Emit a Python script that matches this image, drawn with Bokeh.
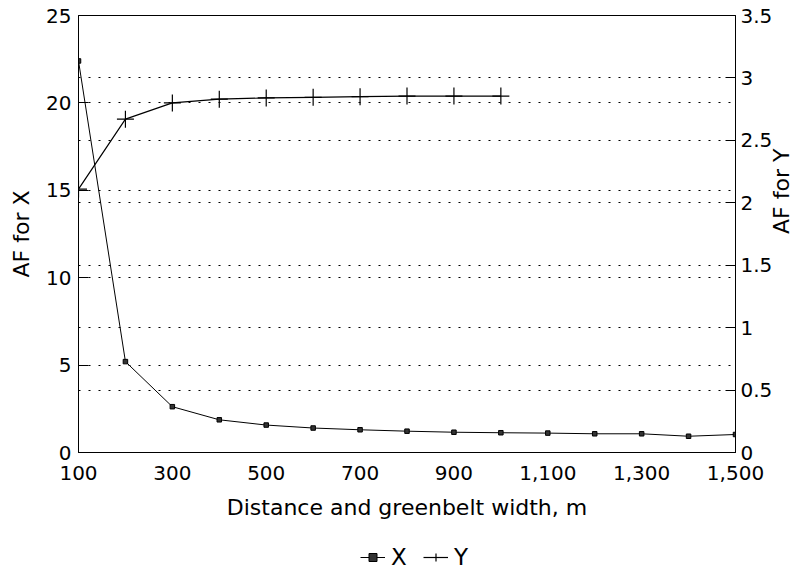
import math
from bokeh.plotting import figure
from bokeh.layouts import column
from bokeh.models import (Range1d, LinearAxis, FixedTicker, Grid, Legend, LegendItem,
                          NumeralTickFormatter)
from bokeh.embed import file_html
from bokeh.resources import INLINE

# ---- data ----
distance = [100, 200, 300, 400, 500, 600, 700, 800, 900, 1000, 1100, 1200, 1300, 1400, 1500]
af_x = [22.4, 5.2, 2.62, 1.87, 1.57, 1.40, 1.30, 1.22, 1.16, 1.13, 1.11, 1.07, 1.07, 0.93, 1.03]
distance_y = [100, 200, 300, 400, 500, 600, 700, 800, 900, 1000]
af_y = [2.11, 2.67, 2.80, 2.83, 2.84, 2.845, 2.85, 2.855, 2.855, 2.855]

x_ticks = [100, 300, 500, 700, 900, 1100, 1300, 1500]
left_ticks = [0, 5, 10, 15, 20, 25]
left_grid = [5, 10, 15, 20]
right_ticks = [0, 0.5, 1, 1.5, 2, 2.5, 3, 3.5]
right_tick_labels = ["0", "0.5", "1", "1.5", "2", "2.5", "3", "3.5"]
right_grid = [0.5, 1, 1.5, 2, 2.5, 3]
series_labels = ["X", "Y"]

FONT = "DejaVu Sans"
TICK_SIZE = "20px"
LABEL_SIZE = "22px"

MAIN_H = 535
p = figure(width=811, height=MAIN_H, output_backend="svg", toolbar_location=None,
           x_range=Range1d(100, 1500), y_range=Range1d(0, 25),
           min_border_left=78, min_border_right=76, min_border_top=15,
           min_border_bottom=MAIN_H - 452)
p.extra_y_ranges = {"right": Range1d(0, 3.5)}
p.background_fill_color = "white"
p.border_fill_color = "white"
p.outline_line_color = "black"
p.outline_line_alpha = 1.0
p.outline_line_width = 1

# bottom axis
xa = p.xaxis[0]
xa.ticker = FixedTicker(ticks=x_ticks)
xa.formatter = NumeralTickFormatter(format="0,0")
xa.axis_label = "Distance and greenbelt width, m"

# left axis
ya = p.yaxis[0]
ya.ticker = FixedTicker(ticks=left_ticks)
ya.axis_label = "AF for X"

# right axis
ra = LinearAxis(y_range_name="right", ticker=FixedTicker(ticks=right_ticks),
                axis_label="AF for Y")
ra.major_label_overrides = {t: s for t, s in zip(right_ticks, right_tick_labels)}
p.add_layout(ra, "right")

for ax in (xa, ya, ra):
    ax.axis_line_color = "black"
    ax.axis_line_width = 1
    ax.major_tick_line_color = "black"
    ax.minor_tick_line_color = None
    ax.major_label_text_font = FONT
    ax.major_label_text_font_size = TICK_SIZE
    ax.major_label_text_color = "black"
    ax.axis_label_text_font = FONT
    ax.axis_label_text_font_size = LABEL_SIZE
    ax.axis_label_text_font_style = "normal"
    ax.axis_label_text_color = "black"

xa.major_tick_in = 0
xa.major_tick_out = 0
xa.major_label_standoff = 13
xa.axis_label_standoff = 12

ya.major_tick_in = 10
ya.major_tick_out = 0
ya.major_label_standoff = 7
ya.axis_label_standoff = 9

ra.major_tick_in = 10
ra.major_tick_out = 0
ra.major_label_standoff = 5
ra.axis_label_standoff = 6
ra.axis_label_orientation = math.pi / 2

# grids (dotted)
p.xgrid.visible = False
p.ygrid.ticker = FixedTicker(ticks=left_grid)
p.ygrid.grid_line_color = "black"
p.ygrid.grid_line_dash = "2 8"
p.ygrid.grid_line_width = 1
rgrid = Grid(dimension=1, ticker=FixedTicker(ticks=right_grid), y_range_name="right",
             grid_line_color="black", grid_line_dash="2 8", grid_line_width=1)
p.add_layout(rgrid)

# series styles
x_line = dict(line_color="black", line_width=1)
x_mark = dict(marker="square", size=4.5, line_color="black", fill_color="#333333", line_width=1)
y_line = dict(line_color="black", line_width=1.2)
y_mark = dict(marker="cross", size=17, line_color="black", line_width=1.2)

p.line(distance, af_x, **x_line)
p.scatter(distance, af_x, **x_mark)
p.line(distance_y, af_y, y_range_name="right", **y_line)
p.scatter(distance_y, af_y, y_range_name="right", **y_mark)

# ---- legend strip below the chart (its own small canvas) ----
LEG_H = 573 - MAIN_H
q = figure(width=811, height=LEG_H, output_backend="svg", toolbar_location=None,
           x_range=Range1d(-2, -1), y_range=Range1d(-2, -1),
           x_axis_type=None, y_axis_type=None,
           min_border_left=0, min_border_right=0, min_border_top=0, min_border_bottom=0)
q.outline_line_color = None
q.xgrid.visible = False
q.ygrid.visible = False
q.background_fill_color = "white"
q.border_fill_color = "white"
lx = q.line(distance, af_x, **x_line)
sx = q.scatter(distance, af_x, **x_mark)
ly = q.line(distance_y, af_y, **y_line)
sy = q.scatter(distance_y, af_y, **y_mark)

legend = Legend(items=[LegendItem(label=series_labels[0], renderers=[lx, sx]),
                       LegendItem(label=series_labels[1], renderers=[ly, sy])],
                orientation="horizontal", location=(282, 3),
                label_text_font=FONT, label_text_font_size="23px", label_text_color="black",
                glyph_width=25, glyph_height=20, label_standoff=6, spacing=12,
                padding=0, margin=0, border_line_alpha=0, background_fill_alpha=0)
q.add_layout(legend, "center")

layout = column(p, q, spacing=0)
open("out.html", "w").write(file_html(layout, INLINE))
